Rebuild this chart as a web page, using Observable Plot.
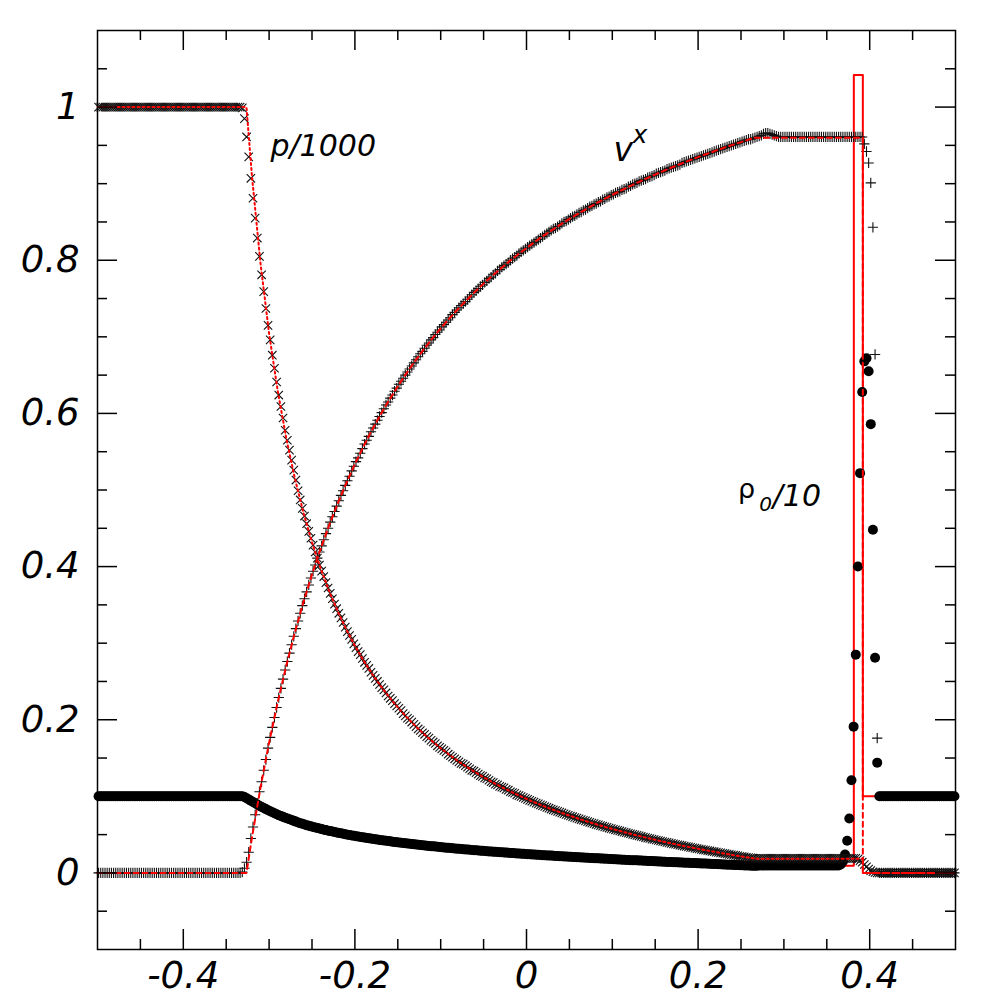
<!DOCTYPE html>
<html><head><meta charset="utf-8">
<script src="https://cdn.jsdelivr.net/npm/d3@7"></script>
<script src="https://cdn.jsdelivr.net/npm/@observablehq/plot@0.6"></script>
<style>body{margin:0;background:#fff}</style>
</head><body><div id="chart"></div>
<script>
// x positions of the 400 numerical zone centres (dx = 0.0025)
const cellX = d3.range(400).map(i => -0.49875 + 0.0025 * i);

// numerical v^x (plus markers)
const numV = [
0,0,0,0,0,0,0,0,0,0, 0,0,0,0,0,0,0,0,0,0, 0,0,0,0,0,0,0,0,0,0,
0,0,0,0,0,0,0,0,0,0, 0,0,0,0,0,0,0,0,0,0, 0,0,0,0,0,0,0,0,0,0,
0,0,0,0,0,0,0,
.001,
.006,.014,.027,.045,.060,.076,.091,.106,
.119,.134,.148,.163, .177,.190,.203,.216, .229,.241,.253,.265, .276,.287,.298,.309,
.319,.329,.339,.349, .358,.367,.376,.385, .394,.402,.411,.419, .427,.435,.443,.450,
.458,.465,.472,.479, .486,.493,.499,.506, .512,.518,.525,.531, .537,.542,.548,.554,
.560,.565,.570,.576, .581,.586,.591,.596, .601,.606,.611,.615, .620,.624,.629,.633,
.638,.642,.646,.650, .654,.658,.662,.666, .670,.674,.678,.681, .685,.689,.692,.696,
.699,.703,.706,.709, .713,.716,.719,.722, .725,.729,.732,.735, .738,.741,.743,.746,
.749,.752,.755,.758, .760,.763,.766,.768, .771,.773,.776,.778, .781,.783,.786,.788,
.791,.793,.795,.797, .800,.802,.804,.806, .809,.811,.813,.815, .817,.819,.821,.823,
.825,.827,.829,.831, .833,.835,.837,.839, .841,.842,.844,.846, .848,.850,.851,.853,
.855,.857,.858,.860, .862,.863,.865,.866, .868,.870,.871,.873, .874,.876,.877,.879,
.880,.882,.883,.885, .886,.888,.889,.890, .892,.893,.894,.896, .897,.899,.900,.901,
.903,.904,.905,.906, .908,.909,.910,.911, .913,.914,.915,.916, .917,.919,.920,.921,
.922,.923,.924,.925, .927,.928,.929,.930, .931,.932,.933,.934, .935,.936,.937,.938,
.939,.940,.941,.942, .943,.944,.945,.946, .947,.948,.949,.950, .951,.952,.953,.954,
.955,.956,.957,.958,
.958,.959,.960,.961,
.962,.963,.965,.966,.966,.965,.964,.963,.962,
.961,.961,.961,.961,.961,.961,.961,.961,.961,.961, .961,.961,.961,.961,.961,.961,.961,.961,.961,.961,
.961,.961,.961,.961,.961,.961,.961,.961,.961,.961, .961,.961,.961,.961,.961,.961,.961,.961,.961,.961,
.952,.942,.927,.901,.843,.677,.176,
0,0,0,0,0,0,0,0,0,0, 0,0,0,0,0,0,0,0,0,0, 0,0,0,0,0,0,0,0,0,0, 0,0,0,0,0,0
];

// numerical p/1000 (times markers)
const numP = [
1,1,1,1,1,1,1,1,1,1, 1,1,1,1,1,1,1,1,1,1, 1,1,1,1,1,1,1,1,1,1,
1,1,1,1,1,1,1,1,1,1, 1,1,1,1,1,1,1,1,1,1, 1,1,1,1,1,1,1,1,1,1,
1,1,1,1,1,1,1,
.999,
.985,.961,.935,.907,.881,.855,.829,.805,.781,.759,.737,.715,.696,.676,.659,.641,.624,.609,.594,.578,.565,.552,.539,.526,.513,
.499,.487,.476,
.466,.456,.446,.437, .428,.419,.411,.402, .394,.387,.379,.372, .365,.358,.351,.345,
.339,.333,.327,.321, .315,.310,.305,.299, .294,.289,.285,.280, .275,.271,.267,.262,
.258,.254,.250,.246, .242,.239,.235,.231, .228,.225,.221,.218, .215,.212,.208,.205,
.202,.200,.197,.194, .191,.188,.186,.183, .181,.178,.176,.173, .171,.169,.166,.164,
.162,.160,.158,.155, .153,.151,.149,.147, .145,.143,.142,.140, .138,.136,.134,.133,
.131,.129,.127,.126, .124,.123,.121,.119, .118,.116,.115,.113, .112,.111,.109,.108,
.106,.105,.104,.102, .101,.0998,.0985,.0972, .0960,.0948,.0936,.0924, .0912,.0901,.0889,.0878,
.0867,.0856,.0845,.0834, .0824,.0814,.0803,.0793, .0783,.0773,.0763,.0753, .0743,.0734,.0724,.0715,
.0706,.0697,.0688,.0679, .0670,.0661,.0652,.0643, .0635,.0627,.0618,.0610, .0602,.0594,.0586,.0578,
.0570,.0563,.0555,.0548, .0540,.0533,.0525,.0518, .0511,.0504,.0497,.0490, .0483,.0476,.0469,.0462,
.0455,.0449,.0442,.0436, .0430,.0423,.0417,.0410, .0404,.0398,.0392,.0386, .0380,.0374,.0368,.0362,
.0356,.0351,.0345,.0340, .0334,.0329,.0323,.0318, .0312,.0307,.0302,.0297, .0292,.0287,.0282,.0277,
.0272,.0267,.0262,.0257, .0252,.0247,.0242,.0237, .0233,.0228,.0223,.0218, .0214,.0210,.0205,.0201,
.0197,.0192,.0188,.0187,
.019,.019,.019,.019,.019,.019,.019,.019,.019,.019, .019,.019,.019,.019,.019,.019,.019,.019,.019,.019,
.019,.019,.019,.019,.019,.019,.019,.019,.019,.019, .019,.019,.019,.019,.019,.019,.019,.019,.019,.019,
.019,.019,.019,.019,.019,.019,
.018,.016,.014,.011,.008,.005,.003,.0015,.0005,
0,0,0,0,0,0,0,0,0,0, 0,0,0,0,0,0,0,0,0,0, 0,0,0,0,0,0,0,0,0,0, 0,0,0,0,0,0,0
];

// numerical rho0/10 (filled dots)
const numRho = [
.1,.1,.1,.1,.1,.1,.1,.1,.1,.1, .1,.1,.1,.1,.1,.1,.1,.1,.1,.1, .1,.1,.1,.1,.1,.1,.1,.1,.1,.1,
.1,.1,.1,.1,.1,.1,.1,.1,.1,.1, .1,.1,.1,.1,.1,.1,.1,.1,.1,.1, .1,.1,.1,.1,.1,.1,.1,.1,.1,.1,
.1,.1,.1,.1,.1,.1,.1,.1,
.0991,.0976,.0960,.0943,.0927,.0910,.0894,.0878,.0862,.0847,.0833,.0818,.0805,.0791,.0779,.0766,.0753,.0743,.0732,.0720,.0710,.0700,.0690,.0680,.0670,
.0659,.0650,.0641,
.0632,.0624,.0616,.0608, .0600,.0593,.0586,.0579, .0572,.0565,.0559,.0552, .0546,.0540,.0534,.0528,
.0522,.0517,.0511,.0506, .0500,.0495,.0490,.0485, .0480,.0475,.0470,.0465, .0461,.0457,.0452,.0448,
.0444,.0440,.0435,.0431, .0427,.0423,.0420,.0416, .0412,.0408,.0405,.0401, .0397,.0394,.0390,.0387,
.0383,.0380,.0377,.0374, .0370,.0367,.0364,.0361, .0358,.0355,.0352,.0349, .0347,.0344,.0341,.0338,
.0335,.0332,.0330,.0327, .0325,.0322,.0320,.0317, .0315,.0312,.0310,.0307, .0305,.0302,.0300,.0297,
.0295,.0293,.0290,.0288, .0286,.0284,.0281,.0279, .0277,.0275,.0273,.0271, .0269,.0267,.0265,.0263,
.0261,.0259,.0257,.0255, .0253,.0251,.0249,.0247, .0245,.0243,.0242,.0240, .0238,.0236,.0234,.0232,
.0230,.0229,.0227,.0226, .0224,.0222,.0221,.0219, .0217,.0215,.0214,.0212, .0210,.0209,.0207,.0206,
.0204,.0202,.0201,.0199, .0197,.0196,.0194,.0193, .0191,.0190,.0188,.0187, .0185,.0184,.0182,.0181,
.0179,.0178,.0176,.0175, .0173,.0172,.0170,.0169, .0167,.0166,.0165,.0164, .0162,.0161,.0159,.0158,
.0156,.0155,.0154,.0153, .0151,.0150,.0148,.0147, .0145,.0144,.0143,.0142, .0140,.0139,.0138,.0137,
.0135,.0134,.0133,.0132, .0130,.0129,.0128,.0127, .0125,.0124,.0123,.0122, .0120,.0119,.0118,.0117,
.0115,.0114,.0112,.0111, .0109,.0108,.0107,.0106, .0104,.0103,.0102,.0101, .0099,.0098,.0097,.0096,
.0094,.0093,.0092,.0093,
.0097,.0097,.0097,.0097,.0097,.0097,.0097,.0097,.0097,.0097, .0097,.0097,.0097,.0097,.0097,.0097,.0097,.0097,.0097,.0097,
.0097,.0097,.0097,.0097,.0097,.0097,.0097,.0097,.0097,.0097, .0097,.0097,.0097,.0097,.0097,.0097,.0097,.0097,
.011,.015,.024,.042,.071,.121,.191,.285,.400,.522,.628,.668,.672,.655,.586,.448,.281,.144,
.1,.1,.1,.1,.1,.1,.1,.1,.1,.1, .1,.1,.1,.1,.1,.1,.1,.1,.1,.1, .1,.1,.1,.1,.1,.1,.1,.1,.1,.1, .1,.1,.1,.1,.1,.1
];

// exact solution (red lines)
const exactX = [-0.5, -0.3264,
-0.32,-0.31,-0.30,-0.29,-0.28,-0.27,-0.26,-0.25,-0.24,-0.23,-0.22,-0.21,-0.20,-0.19,-0.18,-0.17,
-0.16,-0.15,-0.14,-0.13,-0.12,-0.11,-0.10,-0.09,-0.08,-0.07,-0.06,-0.05,-0.04,-0.03,-0.02,-0.01,
0,0.01,0.02,0.03,0.04,0.05,0.06,0.07,0.08,0.09,0.10,0.11,0.12,0.13,0.14,0.15,0.16,0.17,0.18,0.19,
0.20,0.21,0.22,0.23,0.24,0.25,0.26,
0.266, 0.3815, 0.3815, 0.392, 0.392, 0.5];
const exactV = [0, 0,
.0461,.1115,.1701,.2228,.2705,.3139,.3535,.3898,.4232,.4540,.4826,.5091,.5338,.5568,.5784,.5986,
.6176,.6354,.6523,.6682,.6833,.6975,.7111,.7239,.7361,.7478,.7589,.7695,.7796,.7893,.7986,.8075,
.8160,.8242,.8321,.8396,.8469,.8539,.8607,.8672,.8735,.8795,.8854,.8910,.8965,.9018,.9070,.9119,.9168,.9214,.9260,.9304,
.9347,.9388,.9428,.9468,.9506,.9543,.9579,
.960, .960, .960, .960, 0, 0];
const exactP = [1, 1,
.9102,.7957,.7043,.6297,.5677,.5153,.4705,.4317,.3978,.3680,.3415,.3179,.2966,.2774,.2599,.2441,
.2295,.2161,.2038,.1924,.1817,.1720,.1627,.1543,.1462,.1387,.1316,.1249,.1186,.1127,.1071,.1017,
.0966,.0918,.0872,.0829,.0788,.0748,.0710,.0674,.0639,.0606,.0574,.0544,.0514,.0486,.0458,.0433,.0407,.0383,.0359,.0337,
.0315,.0294,.0274,.0254,.0235,.0216,.0199,
.0186, .0186, .0186, .0186, 0, 0];
const exactRho = [.1, .1,
.0945,.0872,.0810,.0758,.0712,.0672,.0636,.0604,.0575,.0549,.0525,.0503,.0482,.0463,.0446,.0429,
.0414,.0399,.0385,.0372,.0359,.0348,.0336,.0326,.0316,.0306,.0296,.0287,.0278,.0270,.0262,.0254,
.0246,.0239,.0231,.0225,.0218,.0211,.0205,.0198,.0192,.0186,.0180,.0174,.0168,.0163,.0157,.0152,.0146,.0141,.0136,.0131,
.0126,.0121,.0116,.0110,.0105,.0100,.0095,
.0092, .0092, 1.042, 1.042, .1, .1];

// axes
const xMajor = [-0.4, -0.2, 0, 0.2, 0.4];
const xMajorLabels = ["-0.4", "-0.2", "0", "0.2", "0.4"];
const xMinor = [-0.45,-0.35,-0.3,-0.25,-0.15,-0.1,-0.05,0.05,0.1,0.15,0.25,0.3,0.35,0.45];
const yMajor = [0, 0.2, 0.4, 0.6, 0.8, 1];
const yMajorLabels = ["0", "0.2", "0.4", "0.6", "0.8", "1"];
const yMinor = [-0.05,0.05,0.1,0.15,0.25,0.3,0.35,0.45,0.5,0.55,0.65,0.7,0.75,0.85,0.9,0.95,1.05];

// curve labels
const labelText = ["p/1000", "v", "x", "ρ", "0", "/10"];
const labelX = [-0.2984, 0.1014, 0.1235, 0.2465, 0.2712, 0.2870];
const labelY = [0.9366, 0.930, 0.9535, 0.4890, 0.4720, 0.4796];
const labelSize = [30, 33, 25, 27, 20, 30];
const labelItalic = [true, true, true, false, true, true];

if (numV.length !== 400 || numP.length !== 400 || numRho.length !== 400)
  console.error("lengths", numV.length, numP.length, numRho.length);

const W = 1000, H = 1000, mL = 97, mR = 45, mT = 30, mB = 51;
const plotW = W - mL - mR, plotH = H - mT - mB;
const FONT = "'DejaVu Sans', 'Liberation Sans', Arial, sans-serif";

const num = cellX.map((x, i) => ({x, v: numV[i], p: numP[i], r: numRho[i]}));
const ex = exactX.map((x, i) => ({x, v: exactV[i], p: exactP[i], r: exactRho[i]}));
const xLab = new Map(xMajor.map((d, i) => [d, xMajorLabels[i]]));
const yLab = new Map(yMajor.map((d, i) => [d, yMajorLabels[i]]));
const tk = {stroke: "black", strokeWidth: 1.5};

const chart = Plot.plot({
  width: W, height: H,
  marginLeft: mL, marginRight: mR, marginTop: mT, marginBottom: mB,
  style: {fontFamily: FONT, background: "white", overflow: "visible"},
  x: {domain: [-0.5, 0.5]},
  y: {domain: [-0.1, 1.1]},
  marks: [
    // exact rho (under the dots)
    Plot.line(ex, {x: "x", y: "r", stroke: "#ff0000", strokeWidth: 2}),
    // numerical data
    Plot.dot(num, {x: "x", y: "r", r: 5, fill: "black", stroke: "none"}),
    Plot.dot(num, {x: "x", y: "v", symbol: "plus", r: 3.4, stroke: "#111", strokeWidth: 1.1}),
    Plot.dot(num, {x: "x", y: "p", symbol: "times", r: 3.9, stroke: "#111", strokeWidth: 1.1}),
    // exact p and v
    Plot.line(ex, {x: "x", y: "p", stroke: "#ff0000", strokeWidth: 2, strokeDasharray: "2,3"}),
    Plot.line(ex, {x: "x", y: "v", stroke: "#ff0000", strokeWidth: 2, strokeDasharray: "5,4"}),
    // labels
    ...labelText.map((t, i) => Plot.text([t], {
      x: [labelX[i]], y: [labelY[i]], text: d => d,
      fontSize: labelSize[i], fontStyle: labelItalic[i] ? "italic" : "normal",
      textAnchor: "start", lineAnchor: "bottom", fill: "black"
    })),
    // ticks on all four sides, pointing inward
    Plot.tickX(xMajor, {x: d => d, insetTop: plotH - 20, ...tk}),
    Plot.tickX(xMajor, {x: d => d, insetBottom: plotH - 20, ...tk}),
    Plot.tickX(xMinor, {x: d => d, insetTop: plotH - 10, ...tk}),
    Plot.tickX(xMinor, {x: d => d, insetBottom: plotH - 10, ...tk}),
    Plot.tickY(yMajor, {y: d => d, insetRight: plotW - 20, ...tk}),
    Plot.tickY(yMajor, {y: d => d, insetLeft: plotW - 20, ...tk}),
    Plot.tickY(yMinor, {y: d => d, insetRight: plotW - 10, ...tk}),
    Plot.tickY(yMinor, {y: d => d, insetLeft: plotW - 10, ...tk}),
    Plot.frame({stroke: "black", strokeWidth: 1.5}),
    Plot.axisX(xMajor, {anchor: "bottom", tickSize: 0, tickPadding: 12, tickFormat: d => xLab.get(d),
      fontSize: 37, fontStyle: "italic", label: null}),
    Plot.axisY(yMajor, {anchor: "left", tickSize: 0, tickPadding: 18, tickFormat: d => yLab.get(d),
      fontSize: 37, fontStyle: "italic", label: null})
  ]
});
document.getElementById("chart").appendChild(chart);
</script>
</body></html>
